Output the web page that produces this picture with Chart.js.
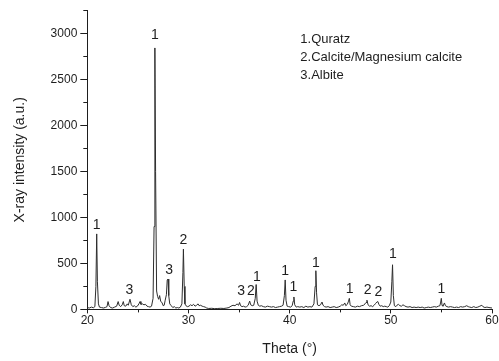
<!DOCTYPE html>
<html lang="en">
<head>
    <meta charset="UTF-8">
    <title>XRD pattern</title>
    <script src="https://cdn.jsdelivr.net/npm/chart.js"></script>
    <style>
        html, body { margin: 0; padding: 0; background: #fff; }
        #chart-container { width: 499px; height: 361px; }
    </style>
</head>
<body>
    <div id="chart-container">
        <canvas id="xrdChart"></canvas>
    </div>

    <script>
        // 2theta (deg) and intensity
        const theta = [
            20.0, 20.2, 20.4, 20.6, 20.75, 20.85, 20.93, 21.0, 21.1, 21.2, 21.4,
            21.6, 21.8, 21.95, 22.05, 22.15, 22.3, 22.5,
            22.7, 22.9, 23.05, 23.15, 23.3, 23.45, 23.56, 23.65, 23.8, 23.95, 24.05, 24.22, 24.35, 24.5, 24.65,
            24.8, 24.95, 25.1, 25.21, 25.3, 25.45, 25.6, 25.75, 25.9, 26.05, 26.2, 26.35, 26.5, 26.6, 26.68, 26.75,
            26.85, 26.95, 27.05, 27.15, 27.25, 27.4, 27.5, 27.6, 27.7, 27.82, 27.9, 27.98, 28.05, 28.15, 28.3, 28.45,
            28.6, 28.75, 28.9, 29.05, 29.2, 29.35, 29.45, 29.5, 29.58, 29.65, 29.75, 29.9, 30.05, 30.2, 30.35,
            30.5, 30.65, 30.8, 30.95, 31.05, 31.2, 31.35, 31.5, 31.65, 31.8, 32.0, 32.3, 32.6, 32.9, 33.2,
            33.5, 33.8, 34.0, 34.2, 34.4, 34.6, 34.8, 34.95, 35.05, 35.15, 35.3, 35.45, 35.6, 35.75, 35.9,
            36.05, 36.15, 36.3, 36.45, 36.6, 36.69, 36.78, 36.9, 37.05, 37.2, 37.4, 37.6, 37.8, 38.0, 38.2,
            38.4, 38.6, 38.8, 39.0, 39.2, 39.35, 39.48, 39.56, 39.64, 39.75, 39.9, 40.1, 40.25, 40.35, 40.42,
            40.5, 40.65, 40.8, 41.0, 41.2, 41.4, 41.6, 41.8, 42.0, 42.2, 42.4, 42.52, 42.59, 42.66, 42.75,
            42.9, 43.05, 43.2, 43.3, 43.45, 43.6, 43.8, 44.0, 44.2, 44.4, 44.6, 44.8, 45.0, 45.15, 45.3,
            45.45, 45.55, 45.7, 45.82, 45.9, 45.98, 46.1, 46.3, 46.5, 46.7, 46.9, 47.1, 47.3, 47.45, 47.55,
            47.64, 47.75, 47.9, 48.05, 48.2, 48.35, 48.5, 48.62, 48.72, 48.82, 48.95, 49.1, 49.25, 49.4, 49.55,
            49.7, 49.85, 50.0, 50.1, 50.17, 50.25, 50.35, 50.5, 50.6, 50.75, 50.9, 51.05, 51.2, 51.35, 51.5,
            51.7, 51.9, 52.1, 52.3, 52.5, 52.7, 52.9, 53.1, 53.3, 53.5, 53.7, 53.9, 54.1, 54.3, 54.5,
            54.7, 54.85, 54.93, 54.99, 55.06, 55.15, 55.3, 55.4, 55.55, 55.7, 55.9, 56.1, 56.3, 56.5, 56.7,
            56.9, 57.1, 57.3, 57.5, 57.65, 57.8, 58.0, 58.2, 58.4, 58.6, 58.8, 59.0, 59.1, 59.3, 59.5,
            59.7, 60.0
        ];
        const intensity = [
            20, 15, 25, 18, 30, 250, 820, 300, 60, 25, 20,
            15, 22, 30, 85, 40, 20, 15,
            25, 35, 85, 45, 30, 50, 85, 40, 35, 60, 45, 110, 50, 30, 40,
            25, 35, 60, 85, 55, 60, 50, 55, 35, 30, 25, 35, 120, 900, 2840, 1500,
            200, 140, 110, 150, 90, 70, 40, 45, 100, 160, 320, 330, 150, 60, 40, 20,
            30, 15, 20, 15, 25, 60, 400, 655, 250, 60, 40, 30, 35, 50, 40,
            55, 35, 45, 60, 40, 45, 35, 30, 25, 15, 10, 12, 8, 10, 12,
            10, 15, 20, 35, 45, 40, 60, 45, 75, 40, 30, 35, 25, 30, 45,
            90, 50, 40, 45, 120, 270, 90, 45, 35, 40, 30, 25, 35, 30, 25,
            30, 20, 25, 30, 35, 45, 150, 320, 100, 35, 30, 25, 40, 90, 135,
            50, 25, 30, 25, 30, 20, 35, 25, 30, 25, 60, 250, 420, 180, 50,
            40, 50, 80, 45, 30, 25, 30, 20, 25, 30, 20, 25, 35, 50, 45,
            70, 40, 55, 90, 120, 50, 35, 30, 25, 35, 30, 40, 45, 60, 75,
            100, 50, 35, 40, 30, 45, 65, 80, 85, 55, 35, 40, 30, 35, 30,
            25, 40, 80, 300, 485, 150, 40, 30, 45, 55, 40, 35, 50, 40, 30,
            25, 30, 20, 25, 20, 25, 20, 25, 15, 20, 25, 20, 25, 30, 25,
            35, 40, 80, 120, 45, 35, 70, 40, 30, 25, 30, 25, 20, 25, 20,
            30, 25, 30, 40, 30, 25, 20, 30, 20, 25, 35, 45, 30, 20, 25,
            20, 15
        ];

        // peak labels: position (theta, intensity) and phase number
        const peakTheta = [20.93, 26.68, 24.15, 28.08, 29.5, 35.2, 36.16, 36.75, 39.56, 40.38, 42.59, 45.92, 47.7, 48.78, 50.2, 54.99];
        const peakLevel = [920, 2980, 210, 430, 750, 195, 195, 355, 417, 238, 505, 220, 210, 186, 600, 225];
        const peakText = ['1', '1', '3', '3', '2', '3', '2', '1', '1', '1', '1', '1', '2', '2', '1', '1'];

        const phaseNotes = ['1.Quratz', '2.Calcite/Magnesium calcite', '3.Albite'];

        const yTicks = [0, 500, 1000, 1500, 2000, 2500, 3000];
        const xMinorTicks = [25, 35, 45, 55];
        const yMinorTicks = [250, 750, 1250, 1750, 2250, 2750, 3250];

        const FONT = "'Liberation Sans', Arial, sans-serif";
        const INK = '#1e1e1e';

        const peakLabels = {
            id: 'peakLabels',
            afterDatasetsDraw(chart) {
                const { ctx, scales: { x, y } } = chart;
                ctx.save();
                ctx.fillStyle = INK;
                ctx.font = '14px ' + FONT;
                ctx.textAlign = 'center';
                ctx.textBaseline = 'middle';
                peakText.forEach((t, i) => {
                    ctx.fillText(t, x.getPixelForValue(peakTheta[i]), y.getPixelForValue(peakLevel[i]));
                });
                ctx.restore();
            }
        };

        const notes = {
            id: 'notes',
            afterDraw(chart) {
                const { ctx, chartArea } = chart;
                ctx.save();
                ctx.fillStyle = INK;
                ctx.font = '13px ' + FONT;
                ctx.textAlign = 'left';
                ctx.textBaseline = 'middle';
                phaseNotes.forEach((t, i) => {
                    ctx.fillText(t, chartArea.left + 213, chartArea.top + 29 + i * 18.2);
                });
                ctx.restore();
            }
        };

        const minorTicks = {
            id: 'minorTicks',
            afterDraw(chart) {
                const { ctx, scales: { x, y } } = chart;
                ctx.save();
                ctx.strokeStyle = INK;
                ctx.lineWidth = 1;
                ctx.beginPath();
                xMinorTicks.forEach(v => {
                    const px = Math.round(x.getPixelForValue(v)) + 0.5;
                    ctx.moveTo(px, y.bottom);
                    ctx.lineTo(px, y.bottom + 3);
                });
                yMinorTicks.forEach(v => {
                    const py = Math.round(y.getPixelForValue(v)) + 0.5;
                    ctx.moveTo(x.left - 4, py);
                    ctx.lineTo(x.left, py);
                });
                ctx.stroke();
                ctx.restore();
            }
        };

        function createChart() {
            const ctx = document.getElementById('xrdChart').getContext('2d');
            const points = theta.map((t, i) => ({ x: t, y: intensity[i] }));

            new Chart(ctx, {
                type: 'line',
                data: {
                    datasets: [{
                        data: points,
                        borderColor: '#2e2e2e',
                        borderWidth: 1,
                        pointRadius: 0,
                        tension: 0,
                        fill: false
                    }]
                },
                options: {
                    responsive: true,
                    maintainAspectRatio: false,
                    animation: false,
                    layout: { padding: { top: 7, right: 7, left: 0, bottom: 0 } },
                    plugins: {
                        legend: { display: false },
                        tooltip: { enabled: false }
                    },
                    scales: {
                        x: {
                            type: 'linear',
                            min: 20,
                            max: 60,
                            afterFit: s => { s.height = 51.6; },
                            border: { display: true, color: INK, width: 1 },
                            grid: { drawOnChartArea: false, drawTicks: true, tickLength: 4, tickColor: INK },
                            ticks: { stepSize: 10, padding: 0, color: INK, font: { family: FONT, size: 12 }, maxRotation: 0 },
                            title: { display: true, text: 'Theta (°)', color: INK, font: { family: FONT, size: 14 }, padding: { top: 0, bottom: 3 } }
                        },
                        y: {
                            min: 0,
                            max: 3250,
                            afterFit: s => { s.width = 87.3; },
                            afterBuildTicks: s => { s.ticks = yTicks.map(v => ({ value: v })); },
                            border: { display: true, color: INK, width: 1 },
                            grid: { drawOnChartArea: false, drawTicks: true, tickLength: 7, tickColor: INK },
                            ticks: { padding: 3, color: INK, font: { family: FONT, size: 12 }, callback: v => String(v) },
                            title: { display: true, text: 'X-ray intensity (a.u.)', color: INK, font: { family: FONT, size: 14 }, padding: { top: 12, bottom: 0 } }
                        }
                    }
                },
                plugins: [peakLabels, notes, minorTicks]
            });
        }
        createChart();
    </script>
</body>
</html>
